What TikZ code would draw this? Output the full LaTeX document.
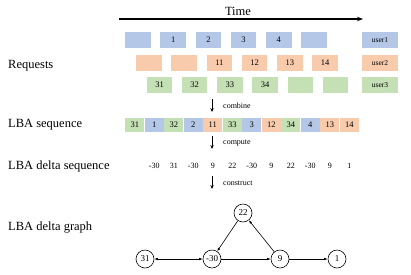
\documentclass[tikz,border=0pt]{standalone}
\usepackage{fontspec}
\setmainfont{Liberation Serif}
\usetikzlibrary{arrows.meta,positioning,calc}
\definecolor{ublue}{RGB}{180,199,231}
\definecolor{uorange}{RGB}{248,203,173}
\definecolor{ugreen}{RGB}{197,224,180}
\tikzset{
  rowlbl/.style={anchor=west, inner sep=0pt, font=\fontsize{12.5}{14}\selectfont},
  reqbox/.style={minimum width=25.5pt, minimum height=16pt, inner sep=0pt, font=\fontsize{8.5}{10}\selectfont},
  userbox/.style={reqbox, minimum width=36pt, font=\fontsize{7.5}{9}\selectfont},
  seqbox/.style={minimum width=18.7pt, minimum height=14pt, inner sep=0pt, font=\fontsize{8.5}{10}\selectfont},
  smalltxt/.style={inner sep=0pt, font=\fontsize{8}{9}\selectfont},
  steparr/.style={-{Stealth[length=4pt,width=3.4pt]}, line width=0.9pt},
  gnode/.style={circle, draw, line width=0.6pt, minimum size=18pt, inner sep=0pt, font=\fontsize{9}{10}\selectfont},
  gedge/.style={-{Latex[length=3.5pt,width=2.6pt]}, line width=0.6pt},
  gboth/.style={{Latex[length=3.5pt,width=2.6pt]}-{Latex[length=3.5pt,width=2.6pt]}, line width=0.6pt},
}
\newcommand{\stepcue}[3]{%
  \coordinate (#1a) at (212,#2);
  \coordinate (#1b) at (212,#2+13);
  \draw[steparr] (#1a) -- (#1b);
  \node[smalltxt, anchor=west] (#1t) at (223,#2+7) {#3};
}

\begin{document}
\begin{tikzpicture}[x=1pt, y=-1pt]
    \useasboundingbox (0,0) rectangle (411,274);
    % time axis
    \coordinate (t0) at (119,19);
    \coordinate (t1) at (363,19);
    \draw[-{Stealth[length=6pt,width=4.5pt]}, line width=1.3pt] (t0) -- (t1);
    \node[font=\fontsize{12.5}{14}\selectfont, inner sep=0pt] (time) at (238,11) {Time};
    % requests of the three users
    \foreach \i/\lab in {0/{}, 1/{1}, 2/{2}, 3/{3}, 4/{4}, 5/{}} {
      \node[reqbox, fill=ublue] (ua\i) at (138+35.2*\i,40) {\lab};
    }
    \foreach \i/\lab in {0/{}, 1/{}, 2/{11}, 3/{12}, 4/{13}, 5/{14}} {
      \node[reqbox, fill=uorange] (ub\i) at (149+35.2*\i,63) {\lab};
    }
    \foreach \i/\lab in {0/{31}, 1/{32}, 2/{33}, 3/{34}, 4/{}, 5/{}} {
      \node[reqbox, fill=ugreen] (uc\i) at (159.5+35.2*\i,85) {\lab};
    }
    \node[userbox, fill=ublue] (user1) at (380,40) {user1};
    \node[userbox, fill=uorange] (user2) at (380,63) {user2};
    \node[userbox, fill=ugreen] (user3) at (380,85) {user3};
    \node[rowlbl] (lreq) at (8,66) {Requests};

    \stepcue{cb}{99}{combine}
    % combined LBA sequence
    \foreach \i/\lab/\col in {0/31/ugreen, 1/1/ublue, 2/32/ugreen, 3/2/ublue,
        4/11/uorange, 5/33/ugreen, 6/3/ublue, 7/12/uorange, 8/34/ugreen,
        9/4/ublue, 10/13/uorange, 11/14/uorange} {
      \node[seqbox, fill=\col] (s\i) at (134.75+19.5*\i,125) {\lab};
    }
    \node[rowlbl] (lseq) at (8,125) {LBA sequence};

    \stepcue{cp}{136}{compute}
    % deltas
    \foreach \i/\lab in {1/-30, 2/31, 3/-30, 4/9, 5/22, 6/-30, 7/9, 8/22,
        9/-30, 10/9, 11/1} {
      \node[smalltxt] (d\i) at (134.75+19.5*\i,166) {\lab};
    }
    \node[rowlbl] (ldelta) at (8,166) {LBA delta sequence};

    \stepcue{cs}{176}{construct}
    % delta graph
    \node[rowlbl] (lgraph) at (8,228) {LBA delta graph};
    \node[gnode] (g22) at (243,213) {22};
    \node[gnode] (g31) at (145,259) {31};
    \node[gnode] (gm30) at (212,259) {-30};
    \node[gnode] (g9) at (280,259) {9};
    \node[gnode] (g1) at (337,259) {1};
    \draw[gboth] (g31) -- (gm30);
    \draw[gedge] (gm30) -- (g9);
    \draw[gedge] (g9) -- (g1);
    \draw[gedge] (g9) -- (g22);
    \draw[gedge] (g22) -- (gm30);
  \end{tikzpicture}
\end{document}
